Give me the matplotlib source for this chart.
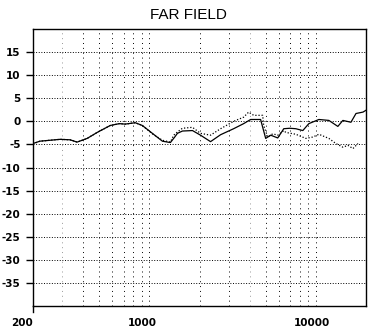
import numpy as np
import matplotlib.pyplot as plt
from matplotlib.transforms import ScaledTranslation

# solid curve (on axis)
freq_a = [200, 220, 253, 291, 334, 368, 423, 486, 582, 660, 716, 823, 907,
          1042, 1197, 1337, 1420, 1474, 1580, 1815, 2028, 2330, 2677, 3206,
          3682, 4057, 4656, 4995, 5354, 5902, 6414, 6971, 7574, 8347, 9072,
          10424, 11967, 13550, 14525, 16240, 17418, 19180, 20000]
db_a = [-4.8, -4.3, -4.1, -3.9, -4.0, -4.5, -3.7, -2.4, -0.9, -0.5, -0.6,
        -0.3, -0.9, -2.6, -4.3, -4.6, -3.4, -2.6, -2.1, -2.0, -3.0, -4.4,
        -2.9, -1.6, -0.5, 0.4, 0.4, -3.7, -3.0, -3.6, -1.6, -1.5, -1.6,
        -2.0, -0.5, 0.4, 0.2, -1.1, 0.2, -0.2, 1.7, 2.0, 2.4]

# dotted curve (off axis)
freq_b = [200, 220, 253, 291, 334, 368, 423, 486, 582, 660, 716, 823, 907,
          1042, 1197, 1337, 1400, 1474, 1580, 1815, 2028, 2330, 2677, 3206,
          3682, 3946, 4231, 4791, 4859, 5137, 5507, 5902, 6414, 6594, 7574,
          8701, 9590, 10424, 11967, 13183, 14525, 15585, 16698, 17904]
db_b = [-4.9, -4.3, -4.1, -3.9, -4.0, -4.5, -3.7, -2.4, -0.9, -0.5, -0.6,
        -0.3, -0.9, -2.7, -4.1, -4.5, -3.0, -2.3, -1.5, -1.3, -2.6, -3.0,
        -1.6, 0.0, 0.9, 2.0, 1.3, 1.3, -0.9, -3.4, -2.7, -3.0, -2.0, -2.4,
        -2.8, -3.7, -3.4, -2.8, -3.7, -4.8, -5.6, -5.2, -5.9, -4.8]

yticks = [-35, -30, -25, -20, -15, -10, -5, 0, 5, 10, 15]
xlabels = [200, 1000, 10000]
vgrid = [300, 400, 500, 600, 700, 800, 900, 1000,
         2000, 3000, 4000, 5000, 6000, 7000, 8000, 9000, 10000]

fig = plt.figure(figsize=(3.72, 3.36), dpi=100)
ax = fig.add_axes([33/372, 30/336, 333/372, 277/336])
ax.set_xscale('log')
ax.set_xlim(200, 20000)
ax.set_ylim(-40, 20)

for f in vgrid:
    c = '0.6' if f in (300, 4000) else 'black'
    ax.axvline(f, color=c, lw=0.7, ls=(0, (1, 4)), zorder=1)
for y in yticks:
    ax.axhline(y, color='black', lw=0.7, ls=(0, (1, 1.7)), zorder=1)

ax.plot(freq_a, db_a, color='black', lw=0.9, zorder=3)
ax.plot(freq_b, db_b, color='black', lw=0.9, ls=(0, (1, 1.5)), zorder=3)

ax.set_yticks(yticks)
ax.set_yticklabels([str(v) for v in yticks])
ax.tick_params(axis='y', length=5, width=1, pad=4, labelsize=7.5)
ax.minorticks_off()
ax.set_xticks(xlabels)
ax.set_xticklabels([str(v) for v in xlabels])
ax.tick_params(axis='x', length=0, pad=9, labelsize=7.5)
for lab in ax.get_xticklabels() + ax.get_yticklabels():
    lab.set_fontweight('bold')
for lab, dx in zip(ax.get_xticklabels(), [-11, -7, -4]):
    lab.set_transform(lab.get_transform() + ScaledTranslation(dx/100, 0, fig.dpi_scale_trans))
ax.plot([200, 200], [-40, -41.2], color='black', lw=1, clip_on=False)

for s in ax.spines.values():
    s.set_linewidth(1)

fig.text(188/372, 1 - 15/336, 'FAR FIELD', ha='center', va='center',
         family='Liberation Sans', fontsize=11)

fig.savefig('out.png', dpi=100)
